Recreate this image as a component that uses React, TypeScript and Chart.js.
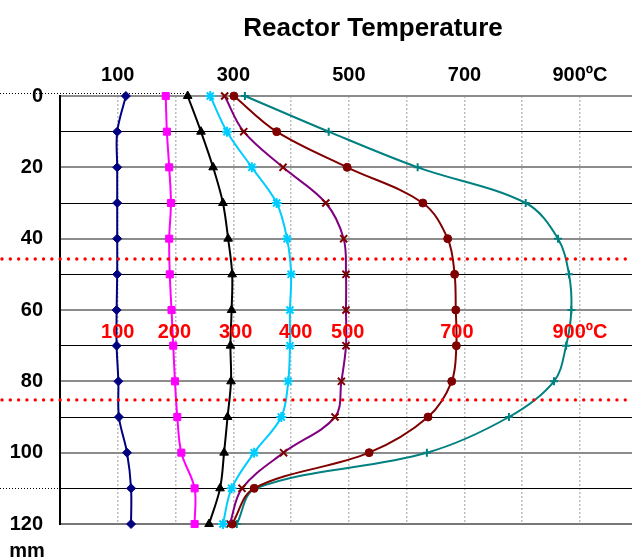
import React, { useEffect, useRef } from "react";
import { Chart, registerables } from "chart.js";

Chart.register(...registerables);

const depths = [0, 10, 20, 30, 40, 50, 60, 70, 80, 90, 100, 110, 120];
const seriesNames = ["100", "200", "300", "400", "500", "700", "900"];
const temp100 = [114, 99, 99, 99, 99, 99, 98, 98, 101, 102, 116, 123, 123];
const temp200 = [183, 185, 189, 192, 189, 190, 193, 196, 199, 203, 210, 233, 233];
const temp300 = [221, 244, 265, 282, 291, 298, 297, 295, 296, 290, 284, 277, 258];
const temp400 = [260, 289, 332, 375, 393, 400, 398, 398, 395, 383, 336, 297, 282];
const temp500 = [285, 318, 386, 460, 491, 495, 495, 495, 487, 476, 387, 315, 294];
const temp700 = [301, 375, 497, 628, 671, 683, 685, 686, 678, 637, 535, 336, 298];
const temp900 = [320, 465, 619, 806, 862, 881, 885, 876, 855, 777, 635, 339, 306];

const tempTicks = [0, 100, 200, 300, 400, 500, 600, 700, 800, 900];
const topTickLabels: Record<number, string> = { 100: "100", 300: "300", 500: "500", 700: "700", 900: "900ºC" };
const depthTickLabels = [0, 20, 40, 60, 80, 100, 120];
const redLabelTexts = ["100", "200", "300", "400", "500", "700", "900ºC"];
const redLabelTemps = [100, 198, 304, 408, 498, 687, 900];
const redLabelDepth = 66.4;
const redLineDepths = [45.7, 85.2];
const blackDotDepths = [0, 110];
const blackDotEndTemps = [220, 233];
const titleText = "Reactor Temperature";
const unitText = "mm";

const FONT = "'Liberation Sans', Arial, sans-serif";

const styles = [
  { color: "#000080", point: "rectRot", r: 4.5, pc: "#000080", bw: 1 },
  { color: "#FF00FF", point: "rect", r: 5, pc: "#FF00FF", bw: 1 },
  { color: "#000000", point: "triangle", r: 5, pc: "#000000", bw: 1 },
  { color: "#00CCFF", point: "star", r: 5, pc: "#00CCFF", bw: 2 },
  { color: "#800080", point: "crossRot", r: 5, pc: "#800000", bw: 2 },
  { color: "#800000", point: "circle", r: 4, pc: "#800000", bw: 1 },
  { color: "#008080", point: "cross", r: 4, pc: "#008080", bw: 2 },
];

const allTemps = [temp100, temp200, temp300, temp400, temp500, temp700, temp900];

const overlay = {
  id: "overlay",
  beforeDatasetsDraw(chart: any) {
    const { ctx, scales } = chart;
    const xs = scales.x, ys = scales.y;
    ctx.save();
    ctx.strokeStyle = "#000";
    ctx.lineWidth = 1;
    ctx.setLineDash([1, 2]);
    blackDotDepths.forEach((d, i) => {
      const y = Math.round(ys.getPixelForValue(d)) - (d === 0 ? 3 : 0) + 0.5;
      ctx.beginPath();
      ctx.moveTo(0, y);
      ctx.lineTo(xs.getPixelForValue(blackDotEndTemps[i]), y);
      ctx.stroke();
    });
    ctx.restore();
  },
  afterDraw(chart: any) {
    const { ctx, scales, width } = chart;
    const xs = scales.x, ys = scales.y;
    ctx.save();
    ctx.strokeStyle = "#FF0000";
    ctx.lineWidth = 3.4;
    ctx.lineCap = "round";
    ctx.setLineDash([0.01, 8.3]);
    redLineDepths.forEach((d) => {
      const y = ys.getPixelForValue(d);
      ctx.beginPath();
      ctx.moveTo(2, y);
      ctx.lineTo(width, y);
      ctx.stroke();
    });
    ctx.setLineDash([]);
    ctx.fillStyle = "#FF0000";
    ctx.font = `bold 20px ${FONT}`;
    ctx.textAlign = "center";
    ctx.textBaseline = "middle";
    redLabelTexts.forEach((t, i) => {
      ctx.fillText(t, xs.getPixelForValue(redLabelTemps[i]), ys.getPixelForValue(redLabelDepth));
    });
    ctx.fillStyle = "#000";
    ctx.font = `bold 26px ${FONT}`;
    ctx.textBaseline = "alphabetic";
    ctx.fillText(titleText, 373, 36);
    ctx.font = `bold 20px ${FONT}`;
    ctx.fillText(unitText, 27, 557);
    ctx.restore();
  },
};

export default function App() {
  const ref = useRef<HTMLCanvasElement>(null);
  useEffect(() => {
    if (!ref.current) return;
    const datasets = allTemps.map((arr, i) => ({
      label: seriesNames[i],
      data: arr.map((t, j) => ({ x: t, y: depths[j] })),
      borderColor: styles[i].color,
      backgroundColor: styles[i].pc,
      pointBackgroundColor: styles[i].pc,
      pointBorderColor: styles[i].pc,
      pointStyle: styles[i].point as any,
      pointRadius: styles[i].r,
      pointBorderWidth: styles[i].bw,
      borderWidth: 2,
      tension: 0.35,
      fill: false,
      clip: false as any,
    }));
    const chart = new Chart(ref.current, {
      type: "line",
      data: { datasets },
      plugins: [overlay],
      options: {
        animation: false,
        responsive: false,
        indexAxis: "y",
        layout: { autoPadding: false, padding: { top: 63, left: 0, right: 0, bottom: 36 } },
        plugins: { legend: { display: false }, tooltip: { enabled: false }, title: { display: false } },
        scales: {
          x: {
            type: "linear",
            position: "top",
            min: 0,
            max: 990,
            afterBuildTicks: (s: any) => { s.ticks = tempTicks.map((v) => ({ value: v })); },
            afterFit: (s: any) => { s.paddingRight = 0; s.paddingLeft = 0; s.height = 33; },
            border: { display: false, dash: [2, 2] },
            grid: {
              drawTicks: false,
              color: (c: any) => (c.tick && c.tick.value > 0 ? "#bdbdbd" : "rgba(0,0,0,0)"),
              lineWidth: 1.5,
            },
            ticks: {
              autoSkip: false,
              maxRotation: 0,
              padding: 9,
              color: "#000",
              font: { family: FONT, size: 20, weight: "bold" },
              callback: (v: any) => topTickLabels[Math.round(Number(v))] || "",
            },
          } as any,
          y: {
            type: "linear",
            reverse: true,
            min: 0,
            max: 120,
            afterFit: (s: any) => { s.width = 60; },
            border: { display: true, color: "#000", width: 2 },
            grid: {
              drawTicks: false,
              color: (c: any) => {
                const v = c.tick ? c.tick.value : 0;
                if (v % 20 === 10) return "#000";
                return v === 120 ? "#777" : "#8c8c8c";
              },
              lineWidth: (c: any) => {
                const v = c.tick ? c.tick.value : 0;
                return v % 20 === 10 ? 1 : 2;
              },
            },
            ticks: {
              stepSize: 10,
              autoSkip: false,
              padding: 17,
              color: "#000",
              font: { family: FONT, size: 20, weight: "bold" },
              callback: (v: any) => (depthTickLabels.includes(v as number) ? String(v) : ""),
            },
          } as any,
        },
      },
    });
    return () => chart.destroy();
  }, []);
  return (
    <div style={{ position: "absolute", left: 0, top: 0, width: 632, height: 560, background: "#fff" }}>
      <canvas ref={ref} width={632} height={560} style={{ width: 632, height: 560, display: "block" }} />
    </div>
  );
}
